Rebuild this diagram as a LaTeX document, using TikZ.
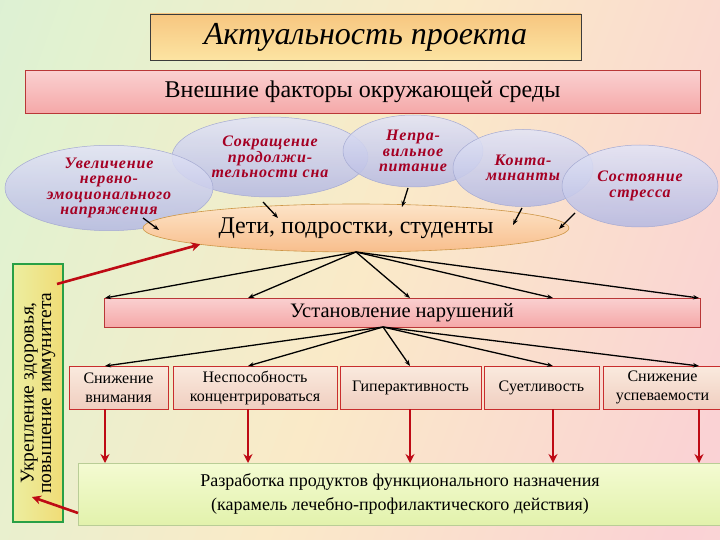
\documentclass[tikz,border=0pt]{standalone}
\usepackage{fontspec}
\setmainfont{Liberation Serif}
\newfontfamily\ellfont[LetterSpace=5]{Liberation Serif}
\usetikzlibrary{shapes.geometric,arrows.meta,calc}
\definecolor{bgA}{RGB}{196,232,230}
\definecolor{bgB}{RGB}{226,242,208}
\definecolor{bgC}{RGB}{250,234,200}
\definecolor{bgD}{RGB}{250,210,212}
\definecolor{bgE}{RGB}{246,218,228}
\pgfdeclarehorizontalshading{bgshade}{100bp}{color(0bp)=(bgA); color(30bp)=(bgB); color(50bp)=(bgC); color(72bp)=(bgD); color(100bp)=(bgE)}
\definecolor{ellTop}{RGB}{226,228,246}
\definecolor{ellBot}{RGB}{182,186,226}
\definecolor{ellLine}{RGB}{165,170,210}
\definecolor{ellText}{RGB}{165,0,35}
\definecolor{kidTop}{RGB}{253,228,200}
\definecolor{kidBot}{RGB}{248,190,140}
\definecolor{kidLine}{RGB}{205,150,70}
\definecolor{pinkTop}{RGB}{250,208,208}
\definecolor{pinkBot}{RGB}{245,168,168}
\definecolor{pinkLine}{RGB}{185,55,55}
\definecolor{boxTop}{RGB}{250,234,222}
\definecolor{boxBot}{RGB}{240,206,192}
\definecolor{boxLine}{RGB}{200,45,45}
\definecolor{titTop}{RGB}{247,198,128}
\definecolor{titBot}{RGB}{252,228,162}
\definecolor{vLeft}{RGB}{240,220,118}
\definecolor{vRight}{RGB}{236,238,160}
\definecolor{vLine}{RGB}{40,160,70}
\definecolor{gTop}{RGB}{244,251,210}
\definecolor{gBot}{RGB}{226,242,172}
\definecolor{gLine}{RGB}{185,205,150}
\definecolor{arrRed}{RGB}{190,10,20}
\begin{document}
\begin{tikzpicture}[x=1pt,y=-1pt,
  every node/.style={inner sep=0pt, outer sep=0pt},
  titlebox/.style={rectangle, draw={rgb,255:red,60;green,60;blue,60}, line width=0.7pt, top color=titTop, bottom color=titBot, font=\fontsize{32}{36}\selectfont\itshape},
  pinkbar/.style={rectangle, draw=pinkLine, line width=0.6pt, top color=pinkTop, bottom color=pinkBot},
  ell/.style={ellipse, draw=ellLine, line width=0.5pt, top color=ellTop, bottom color=ellBot, fill opacity=0.88, text opacity=1, text=ellText, align=center, font=\ellfont\fontsize{16}{15.5}\selectfont\bfseries\itshape},
  kidell/.style={ellipse, draw=kidLine, line width=0.6pt, top color=kidTop, bottom color=kidBot, font=\fontsize{24}{28}\selectfont},
  smallbox/.style={rectangle, draw=boxLine, line width=0.7pt, top color=boxTop, bottom color=boxBot, align=center, font=\fontsize{16}{19}\selectfont, minimum height=43},
  vbox/.style={rectangle, draw=vLine, line width=2pt, left color=vRight, right color=vLeft, align=center, font=\fontsize{19.5}{17.5}\selectfont},
  prodbox/.style={rectangle, draw=gLine, line width=0.6pt, top color=gTop, bottom color=gBot, align=center, font=\fontsize{18}{24}\selectfont},
  blk/.style={draw=black, line width=1.3pt, -{Stealth[length=6pt,width=4.5pt]}},
  redarr/.style={draw=arrRed, line width=2.6pt, -{Stealth[length=9pt,width=9pt]}}
]
\useasboundingbox (0,0) rectangle (720,540);
\clip (0,0) rectangle (720,540);
\shade[shading=bgshade, shading angle=-20] (-100,-100) rectangle (820,640);

% title and header bar
\node[titlebox, minimum width=431, minimum height=46] (title) at (365.5,37) {Актуальность проекта};
\node[pinkbar, minimum width=675, minimum height=43, font=\fontsize{24}{28}\selectfont] (ext) at (362.5,92) {Внешние факторы окружающей среды};

% factor ellipses
\node[ell, minimum width=196, minimum height=80] (e2) at (270,157) {Сокращение\\продолжи-\\тельности сна};
\node[ell, minimum width=208, minimum height=72] (e1) at (109,188) {Увеличение\\нервно-\\эмоционального\\напряжения};
\node[ell, minimum width=140, minimum height=72] (e3) at (413,151) {Непра-\\вильное\\питание};
\node[ell, minimum width=140, minimum height=77] (e4) at (523,168) {Конта-\\минанты};
\node[ell, minimum width=156, minimum height=82] (e5) at (640,186) {Состояние\\стресса};

% target group
\node[kidell, minimum width=426, minimum height=48] (kids) at (356,228) {Дети, подростки, студенты};

\coordinate (a1s) at (143,218); \coordinate (a1e) at (159,230);
\coordinate (a2s) at (263,202); \coordinate (a2e) at (278,218);
\coordinate (a3s) at (408,188); \coordinate (a3e) at (402,207);
\coordinate (a4s) at (522,208); \coordinate (a4e) at (513,225);
\coordinate (a5s) at (575,213); \coordinate (a5e) at (559,229);
\foreach \i in {1,...,5} {\draw[blk] (a\i s) -- (a\i e);}

% violations bar
\node[pinkbar, minimum width=596, minimum height=29, font=\fontsize{20.5}{24}\selectfont] (viol) at (402,312.5) {Установление нарушений};

% symptom boxes
\node[smallbox, minimum width=99] (b1) at (118.5,387.5) {Снижение\\внимания};
\node[smallbox, minimum width=164] (b2) at (255,387.5) {Неспособность\\концентрироваться};
\node[smallbox, minimum width=141] (b3) at (410.5,387.5) {Гиперактивность};
\node[smallbox, minimum width=115] (b4) at (541.5,387.5) {Суетливость};
\node[smallbox, minimum width=119] (b5) at (662.5,387.5) {Снижение\\успеваемости};

% product box
\node[prodbox, minimum width=644, minimum height=62] (prod) at (400,494) {Разработка продуктов функционального назначения\\(карамель лечебно-профилактического действия)};

% vertical box
\node[vbox, rotate=90, minimum width=258, minimum height=50] (health) at (38,393) {Укрепление здоровья,\\повышение иммунитета};

% connectors
\coordinate (vapex) at (383,327);
\foreach \x [count=\i] in {105,248,410,553,699} {
  \coordinate (col\i) at (\x,0);
  \draw[blk] (kids.south) -- (col\i |- viol.north);
  \draw[blk] (vapex) -- (col\i |- b\i.north);
  \draw[redarr] (col\i |- b\i.south) -- (col\i |- prod.north);
}
\coordinate (h1) at (57,284);
\draw[redarr] (h1) -- (kids.186);
\coordinate (p1) at (78,513);
\coordinate (h2) at (32,497);
\draw[redarr] (p1) -- (h2);
\end{tikzpicture}
\end{document}
